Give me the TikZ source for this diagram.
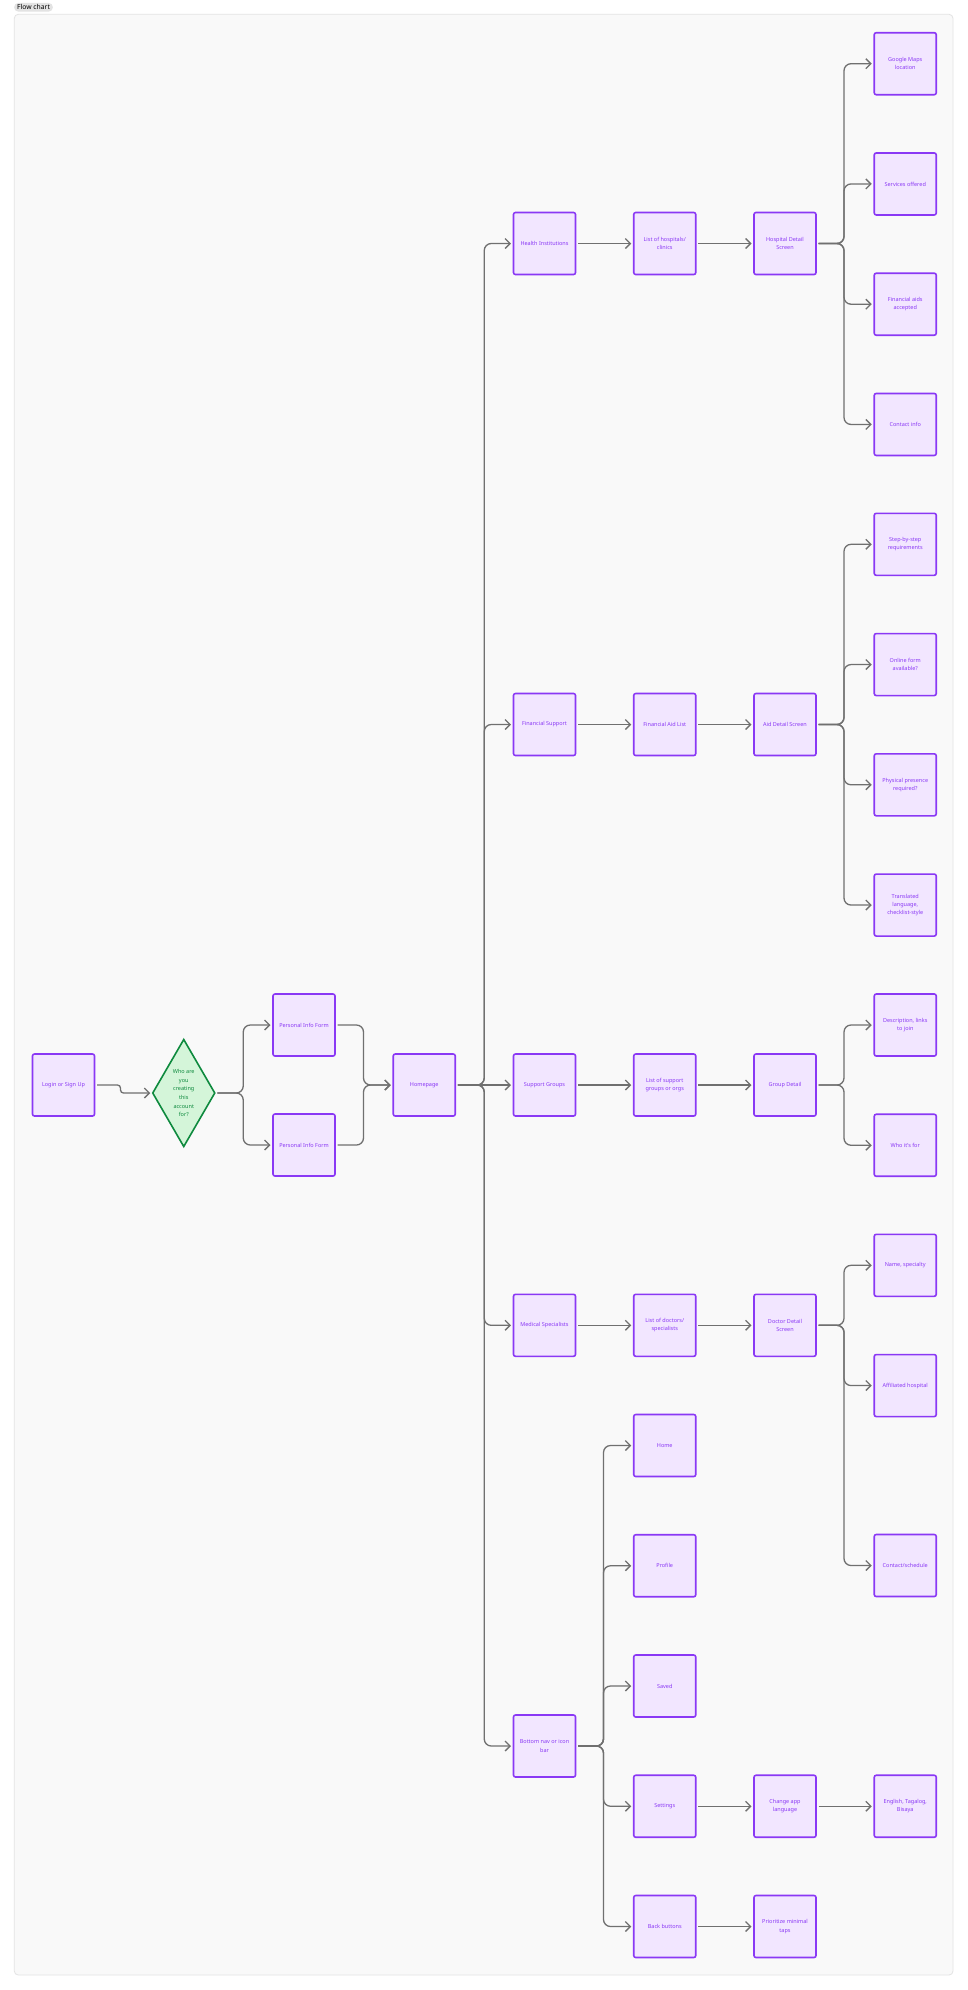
\documentclass[tikz,border=0pt]{standalone}
\usepackage{fontspec}
\setmainfont{Noto Sans}
\usetikzlibrary{arrows.meta,shapes.geometric,positioning,calc}
\definecolor{boxline}{HTML}{8A38F5}
\definecolor{boxfill}{HTML}{F2E6FF}
\definecolor{boxtext}{HTML}{8A38F5}
\definecolor{qline}{HTML}{0E8A3E}
\definecolor{qfill}{HTML}{D4F5D9}
\definecolor{qtext}{HTML}{0E8A3E}
\definecolor{edgegray}{HTML}{707070}
\definecolor{panelbg}{HTML}{F9F9F9}
\definecolor{panelline}{HTML}{E3E3E3}
\definecolor{tagbg}{HTML}{E3E3E3}

\begin{document}
\begin{tikzpicture}
[x=1pt,y=-1pt,node distance=58.25pt,
screen/.style={shape=rectangle,draw=boxline,fill=boxfill,line width=1.6pt,
rounded corners=2pt,minimum width=62pt,minimum height=62pt,inner sep=1pt,
outer sep=0pt,align=center,text=boxtext,font=\fontsize{5.5}{8.4}\selectfont},
choice/.style={shape=diamond,draw=qline,fill=qfill,line width=1.6pt,
shape aspect=0.57,minimum width=62pt,minimum height=107pt,inner sep=0pt,
outer sep=0pt,align=center,text=qtext,font=\fontsize{5.5}{8.7}\selectfont},
link/.style={draw=edgegray,line width=1.3pt,rounded corners=7pt,
-{Straight Barb[length=5pt,width=10pt]},shorten >=2.5pt,shorten <=2.5pt}]
\useasboundingbox (0,0) rectangle (968,1990);
%%%%%%%%%%
%%%%% frame
\fill[white] (0,0) rectangle (968,1990);
\draw[panelline,fill=panelbg,rounded corners=4pt,line width=.8pt]
(14.3,14.3) rectangle (953,1975);
\node (tag) [fill=tagbg,rounded corners=4.5pt,inner xsep=3pt,inner ysep=1.8pt,
font=\fontsize{6.8}{7}\selectfont\bfseries] at (33.5,7.3) {Flow chart};
%%%%% sign up
\node (login) [screen] at (63.5,1085) {Login or Sign Up};
\node (who) [choice] at (183.75,1093) {Who are\\you\\creating\\this\\account\\for?};
\node (pif1) [screen] at (304,1025) {Personal Info Form};
\node (pif2) [screen] at (304,1145) {Personal Info Form};
\node (home) [screen] at (424.25,1085) {Homepage};
%% health institutions
\node (hi) [screen] at (544.5,243.5) {Health Institutions};
\node (hl) [screen,right=of hi] {List of hospitals/\\clinics};
\node (hd) [screen,right=of hl] {Hospital Detail\\Screen};
\node (h1) [screen] at (905.25,63.7) {Google Maps\\location};
\node (h2) [screen,below=of h1] {Services offered};
\node (h3) [screen,below=of h2] {Financial aids\\accepted};
\node (h4) [screen,below=of h3] {Contact info};
%% financial support
\node (fs) [screen] at (544.5,724.5) {Financial Support};
\node (fl) [screen,right=of fs] {Financial Aid List};
\node (fd) [screen,right=of fl] {Aid Detail Screen};
\node (f1) [screen] at (905.25,544.3) {Step-by-step\\requirements};
\node (f2) [screen,below=of f1] {Online form\\available?};
\node (f3) [screen,below=of f2] {Physical presence\\required?};
\node (f4) [screen,below=of f3] {Translated\\language,\\checklist-style};
%% support groups
\node (sg) [screen] at (544.5,1085) {Support Groups};
\node (sl) [screen,right=of sg] {List of support\\groups or orgs};
\node (sd) [screen,right=of sl] {Group Detail};
\node (s1) [screen] at (905.25,1025) {Description, links\\to join};
\node (s2) [screen,below=of s1] {Who it's for};
%% medical specialists
\node (ms) [screen] at (544.5,1325.3) {Medical Specialists};
\node (ml) [screen,right=of ms] {List of doctors/\\specialists};
\node (md) [screen,right=of ml] {Doctor Detail\\Screen};
\node (m1) [screen] at (905.25,1265.3) {Name, specialty};
\node (m2) [screen,below=of m1] {Affiliated hospital};
\node (m3) [screen] at (905.25,1565.5) {Contact/schedule};
%% bottom nav
\node (bn) [screen] at (544.5,1746) {Bottom nav or icon\\bar};
\node (b1) [screen] at (664.75,1445.5) {Home};
\node (b2) [screen,below=of b1] {Profile};
\node (b3) [screen,below=of b2] {Saved};
\node (b4) [screen,below=of b3] {Settings};
\node (b5) [screen,below=of b4] {Back buttons};
\node (c1) [screen,right=of b4] {Change app\\language};
\node (c2) [screen,right=of c1] {English, Tagalog,\\Bisaya};
\node (c3) [screen,right=of b5] {Prioritize minimal\\taps};
%%%%% edges
\draw[link,rounded corners=3pt] (login.east) -- ++(26,0) |- (who.west);
\draw[link] (who.east) -- ++(28.5,0) |- (pif1.west);
\draw[link] (who.east) -- ++(28.5,0) |- (pif2.west);
\draw[link] (pif1.east) -- ++(28.5,0) |- (home.west);
\draw[link] (pif2.east) -- ++(28.5,0) |- (home.west);
\foreach \t in {hi,fs,ms,bn}
  \draw[link] (home.east) -- ++(29,0) |- (\t.west);
\draw[link] (home) -- (sg);
%% chains
\draw[link] (hi) -- (hl);
\draw[link] (hl) -- (hd);
\draw[link] (fs) -- (fl);
\draw[link] (fl) -- (fd);
\draw[link] (sg) -- (sl);
\draw[link] (sl) -- (sd);
\draw[link] (ms) -- (ml);
\draw[link] (ml) -- (md);
\draw[link] (b4) -- (c1);
\draw[link] (c1) -- (c2);
\draw[link] (b5) -- (c3);
%% detail branches
\foreach \l in {h1,h2,h3,h4}
  \draw[link] (hd.east) -- ++(28,0) |- (\l.west);
\foreach \l in {f1,f2,f3,f4}
  \draw[link] (fd.east) -- ++(28,0) |- (\l.west);
\foreach \l in {s1,s2}
  \draw[link] (sd.east) -- ++(28,0) |- (\l.west);
\foreach \l in {m1,m2,m3}
  \draw[link] (md.east) -- ++(28,0) |- (\l.west);
\foreach \l in {b1,b2,b3,b4,b5}
  \draw[link] (bn.east) -- ++(28,0) |- (\l.west);
\end{tikzpicture}
\end{document}
